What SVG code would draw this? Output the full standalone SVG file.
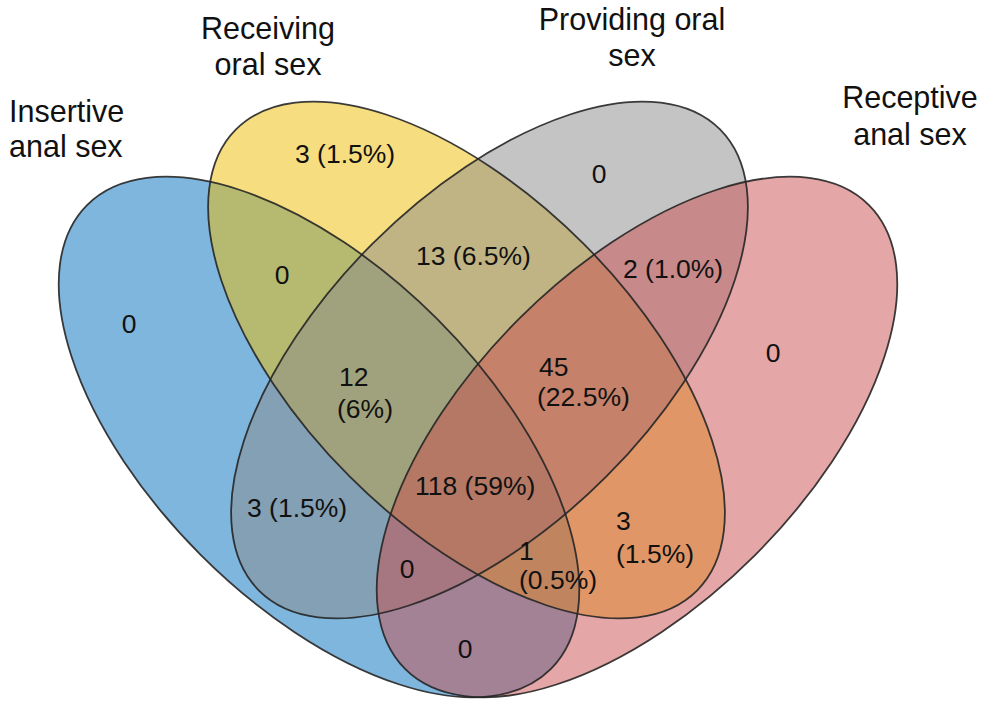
<svg xmlns="http://www.w3.org/2000/svg" xmlns:xlink="http://www.w3.org/1999/xlink" width="987" height="708" viewBox="0 0 987 708">
  <defs>
    <style>
      .set { fill-opacity: 0.5; stroke: none; }
      .outline { fill: none; stroke: #262626; stroke-width: 1.8; stroke-opacity: 0.9; }
      .lbl { font-family: "Liberation Sans", Arial, sans-serif; font-size: 30.5px; fill: #111; }
      .num { font-family: "Liberation Sans", Arial, sans-serif; font-size: 26.5px; fill: #111; }
      .mid { text-anchor: middle; }
    </style>
    <ellipse id="e-blue" cx="0" cy="0" rx="328" ry="167" transform="translate(319 437) rotate(45)"/>
    <ellipse id="e-yellow" cx="0" cy="0" rx="326" ry="165" transform="translate(466.5 360) rotate(45)"/>
    <ellipse id="e-grey" cx="0" cy="0" rx="326" ry="165" transform="translate(489.5 360) rotate(-45)"/>
    <ellipse id="e-pink" cx="0" cy="0" rx="328" ry="167" transform="translate(637 437) rotate(-45)"/>
  </defs>
  <rect width="987" height="708" fill="#ffffff"/>

  <g id="insertive-anal-sex">
    <use xlink:href="#e-blue" class="set" fill="#006DBD"/>
    <text class="lbl" x="9" y="122">Insertive</text>
    <text class="lbl" x="9" y="157">anal sex</text>
  </g>
  <g id="receiving-oral-sex">
    <use xlink:href="#e-yellow" class="set" fill="#EDBD01"/>
    <text class="lbl mid" x="268" y="39">Receiving</text>
    <text class="lbl mid" x="268" y="75">oral sex</text>
  </g>
  <g id="providing-oral-sex">
    <use xlink:href="#e-grey" class="set" fill="#898989"/>
    <text class="lbl mid" x="632" y="30">Providing oral</text>
    <text class="lbl mid" x="632" y="66">sex</text>
  </g>
  <g id="receptive-anal-sex">
    <use xlink:href="#e-pink" class="set" fill="#C94D4D"/>
    <text class="lbl mid" x="910" y="108">Receptive</text>
    <text class="lbl mid" x="910" y="145">anal sex</text>
  </g>

  <g id="outlines">
    <use xlink:href="#e-blue" class="outline"/>
    <use xlink:href="#e-yellow" class="outline"/>
    <use xlink:href="#e-grey" class="outline"/>
    <use xlink:href="#e-pink" class="outline"/>
  </g>

  <g id="counts">
    <text class="num mid" x="129" y="333">0</text>
    <text class="num mid" x="282" y="284">0</text>
    <text class="num" x="295" y="163">3 (1.5%)</text>
    <text class="num" x="416" y="265">13 (6.5%)</text>
    <text class="num mid" x="599" y="183">0</text>
    <text class="num" x="623" y="278">2 (1.0%)</text>
    <text class="num mid" x="773" y="362">0</text>
    <text class="num" x="339" y="386">12</text>
    <text class="num" x="337" y="418">(6%)</text>
    <text class="num" x="539" y="376">45</text>
    <text class="num" x="537" y="406">(22.5%)</text>
    <text class="num" x="415" y="495">118 (59%)</text>
    <text class="num" x="247" y="517">3 (1.5%)</text>
    <text class="num mid" x="407" y="578">0</text>
    <text class="num" x="519" y="560">1</text>
    <text class="num" x="519" y="589">(0.5%)</text>
    <text class="num" x="616" y="530">3</text>
    <text class="num" x="616" y="563">(1.5%)</text>
    <text class="num mid" x="465" y="658">0</text>
  </g>
</svg>
